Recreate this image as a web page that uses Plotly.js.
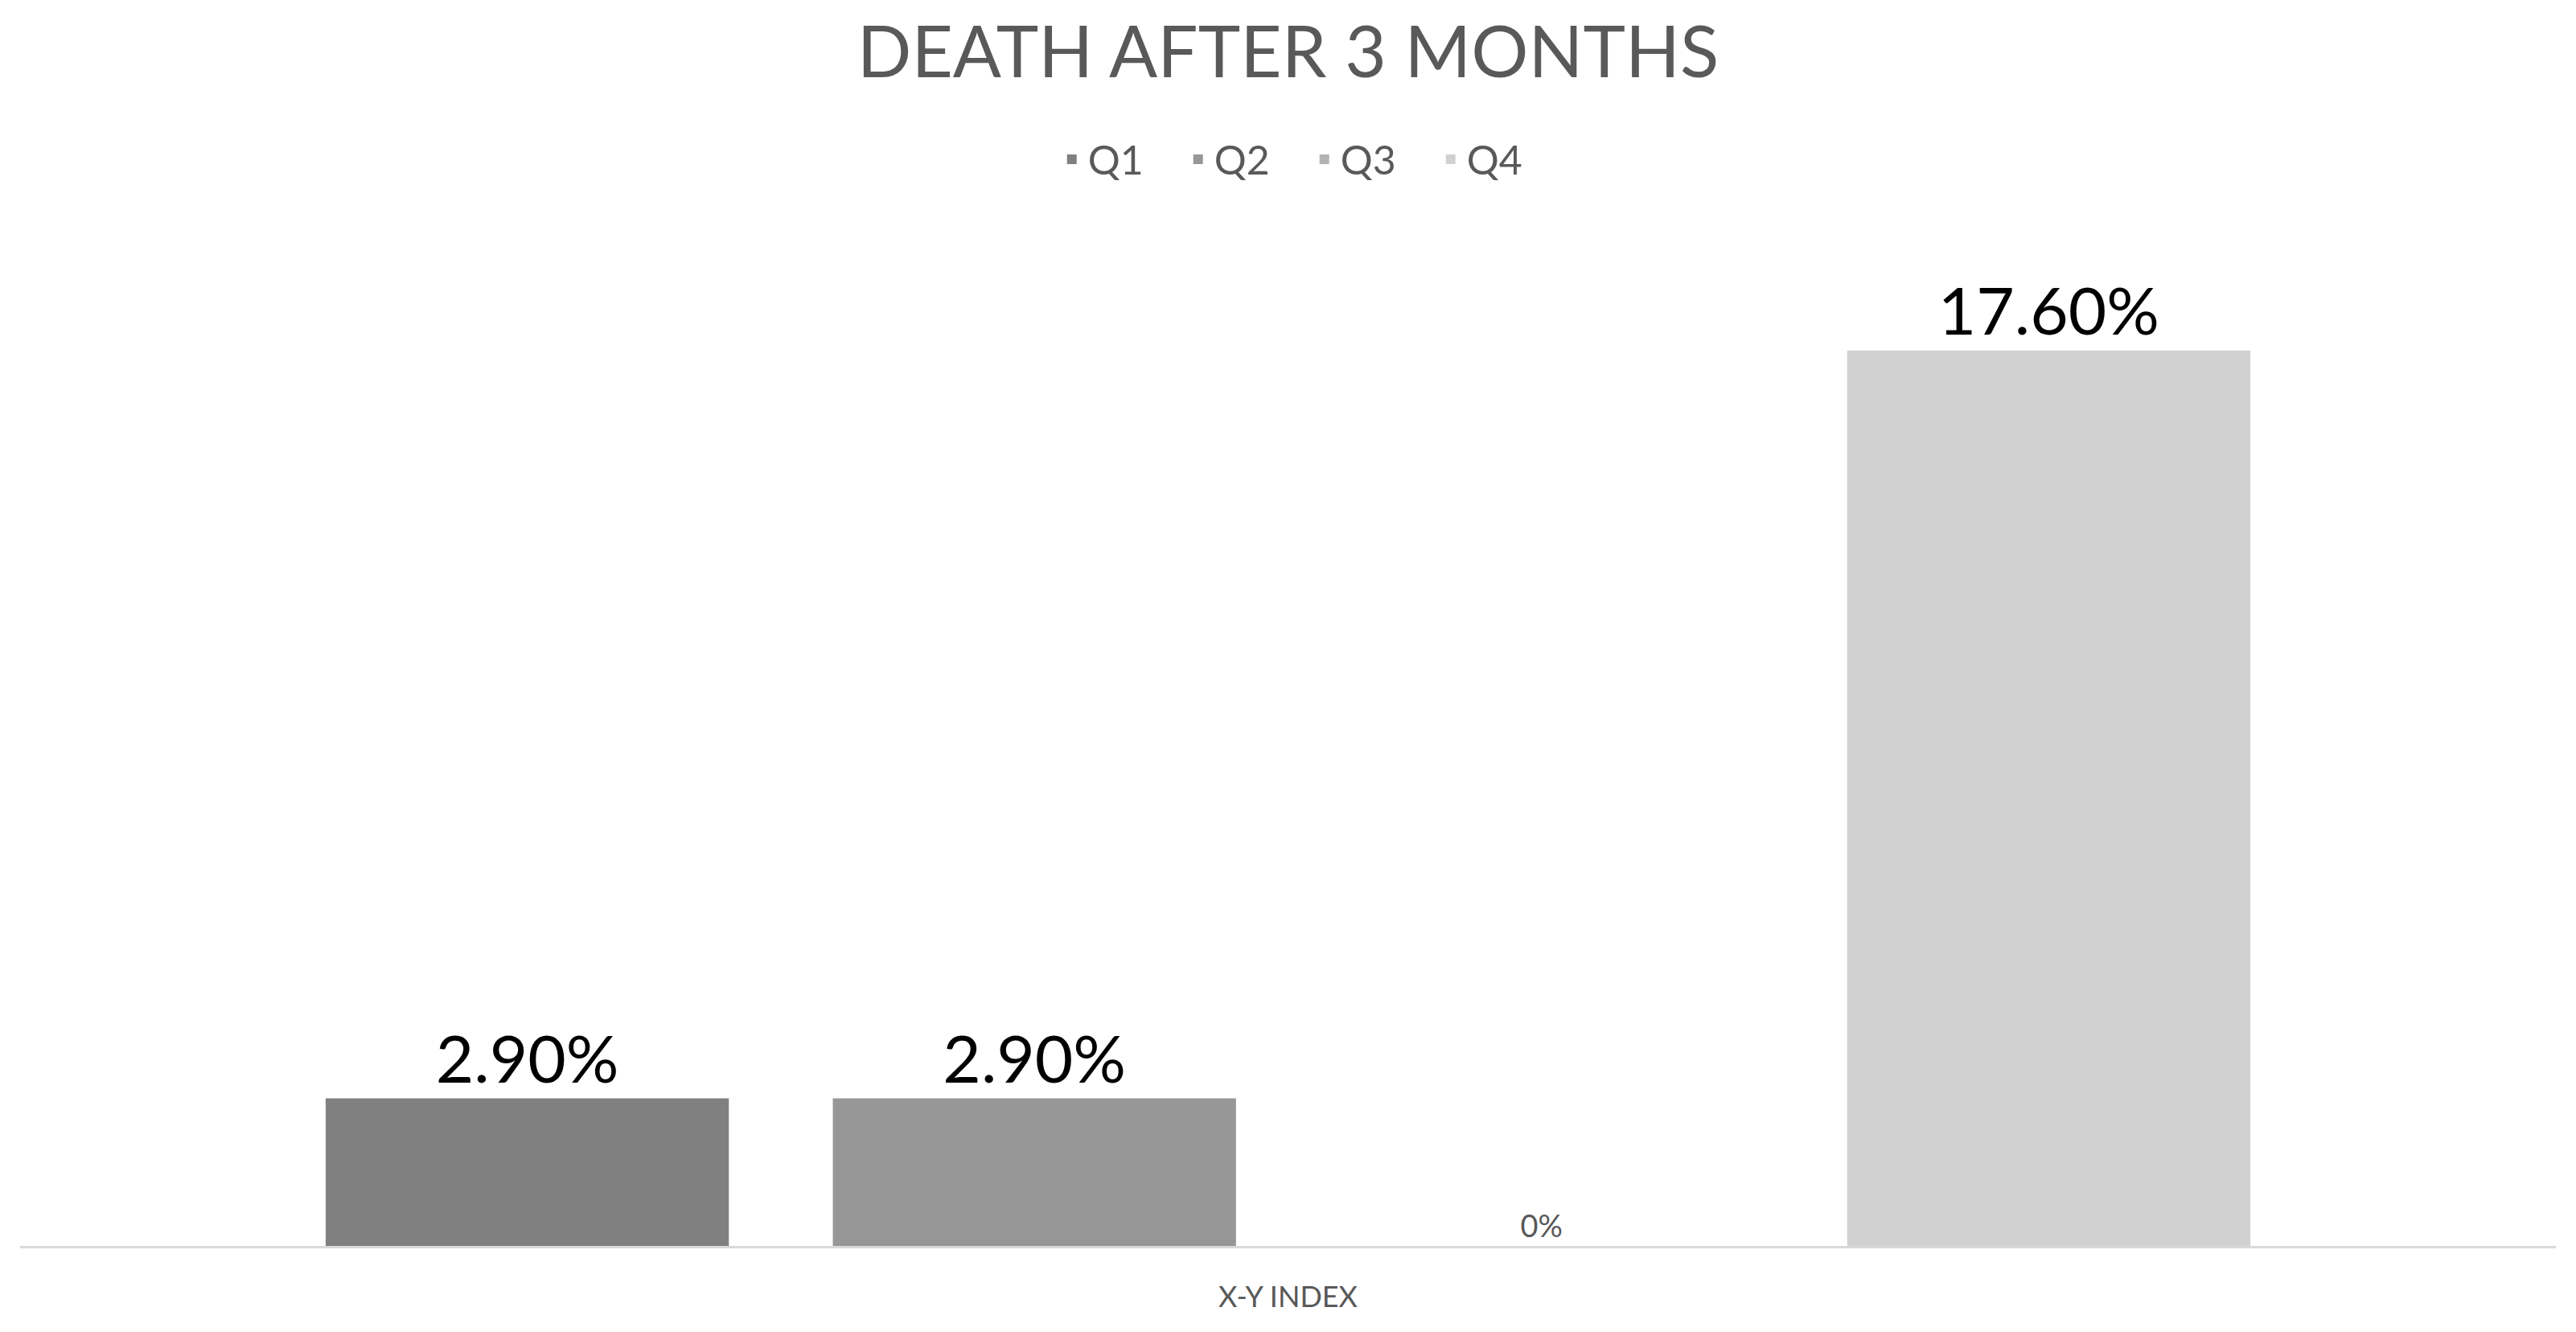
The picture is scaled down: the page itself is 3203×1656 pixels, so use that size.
<!DOCTYPE html>
<html>
<head>
<meta charset="utf-8">
<script src="https://cdn.plot.ly/plotly-3.0.1.min.js"></script>
<style>
html,body{margin:0;padding:0;background:#fff;}
#chart{width:3203px;height:1656px;}
</style>
</head>
<body>
<div id="chart"></div>
<script>
const categories = ["X-Y INDEX"];
const seriesNames = ["Q1", "Q2", "Q3", "Q4"];
const seriesValues = [2.9, 2.9, 0, 17.6];
const dataLabels = ["2.90%", "2.90%", "0%", "17.60%"];
const seriesColors = ["#808080", "#979797", "#b3b3b3", "#d1d1d1"];
const labelSizes = [82, 82, 38, 82];
const labelColors = ["#000000", "#000000", "#595959", "#000000"];

const traces = seriesNames.map((name, i) => ({
  type: "bar",
  name: name,
  x: categories,
  y: [seriesValues[i]],
  text: [dataLabels[i]],
  textposition: "outside",
  cliponaxis: false,
  textfont: {family: "Lato, 'Open Sans', sans-serif", size: labelSizes[i], color: labelColors[i]},
  marker: {color: seriesColors[i], line: {width: 0}},
  hoverinfo: "skip"
}));

const layout = {
  width: 3203,
  height: 1656,
  paper_bgcolor: "#ffffff",
  plot_bgcolor: "#ffffff",
  margin: {l: 25, r: 25, t: 284, b: 107},
  font: {family: "Lato, 'Open Sans', sans-serif", color: "#595959"},
  title: {
    text: "DEATH AFTER 3 MONTHS",
    font: {family: "Lato, 'Open Sans', sans-serif", size: 89, color: "#595959"},
    x: 0.5, xanchor: "center",
    y: 1 - 65/1656, yanchor: "middle", yref: "container"
  },
  showlegend: true,
  legend: {
    orientation: "h",
    x: 0.508, xanchor: "center",
    y: 1.068, yanchor: "middle",
    font: {size: 50, color: "#595959"},
    itemwidth: 30,
    entrywidth: 112,
    entrywidthmode: "pixels",
    traceorder: "normal"
  },
  barmode: "group",
  bargap: 0.2,
  bargroupgap: 0.205,
  xaxis: {
    type: "category",
    showline: true,
    linecolor: "#d9d9d9",
    linewidth: 3,
    ticks: "",
    showgrid: false,
    tickfont: {size: 36, color: "#595959"},
    ticklabelstandoff: 30
  },
  yaxis: {
    range: [0, 20],
    visible: false,
    showgrid: false,
    zeroline: false
  }
};

Plotly.newPlot("chart", traces, layout, {displayModeBar: false, staticPlot: true});
</script>
</body>
</html>
